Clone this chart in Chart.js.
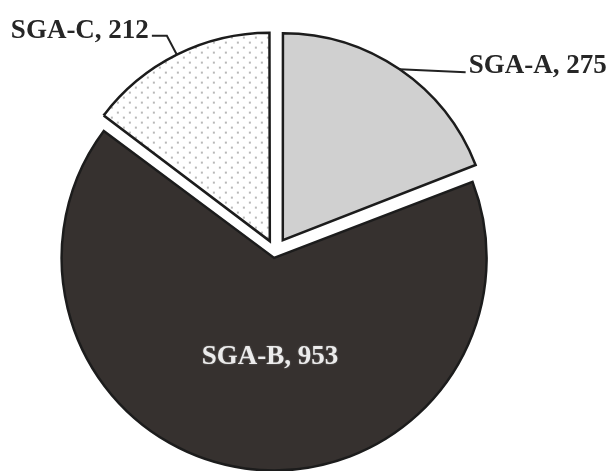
<!DOCTYPE html>
<html>
<head>
<meta charset="utf-8">
<script src="https://cdn.jsdelivr.net/npm/chart.js@4/dist/chart.umd.min.js"></script>
<style>
  html, body { margin: 0; padding: 0; background: #fff; }
  #wrap { width: 611px; height: 471px; position: relative; }
</style>
</head>
<body>
<div id="wrap"><canvas id="pieChart"></canvas></div>
<script>
const labels = ['SGA-A', 'SGA-B', 'SGA-C'];
const counts = [275, 953, 212];

// dotted fill for the SGA-C slice
function dotPattern() {
    const tile = document.createElement('canvas');
    tile.width = 12;
    tile.height = 10;
    const t = tile.getContext('2d');
    t.fillStyle = '#ffffff';
    t.fillRect(0, 0, 12, 10);
    t.fillStyle = '#b8b8b8';
    t.fillRect(2, 2, 2, 2);
    t.fillRect(8, 7, 2, 2);
    return document.getElementById('pieChart').getContext('2d').createPattern(tile, 'repeat');
}

// Chart.js moves an arc by offset/4 and grows its radius by offset/4 * (1 - sin(min(PI, circ)))
// pushes (px)
const slicePush = [13.8, 6.5, 11.6];

const labelPlugin = {
    id: 'sliceLabels',
    afterDatasetsDraw(chart) {
        const ctx = chart.ctx;
        const arcs = chart.getDatasetMeta(0).data;
        ctx.save();
        ctx.font = 'bold 27px "Liberation Serif", "Times New Roman", serif';
        ctx.textBaseline = 'alphabetic';
        arcs.forEach((arc, i) => {
            const p = arc.getProps(['x', 'y', 'startAngle', 'endAngle', 'outerRadius'], true);
            const mid = (p.startAngle + p.endAngle) / 2;
            const circ = p.endAngle - p.startAngle;
            const shift = (arc.options.offset || 0) / 4;
            const r = p.outerRadius + shift * (1 - Math.sin(Math.min(Math.PI, circ)));
            const cx = p.x + Math.cos(mid) * shift;
            const cy = p.y + Math.sin(mid) * shift;
            const ex = cx + Math.cos(mid) * r;
            const ey = cy + Math.sin(mid) * r;
            const text = labels[i] + ', ' + counts[i];
            ctx.strokeStyle = '#222';
            ctx.lineWidth = 2;
            if (i === 0) {
                ctx.beginPath();
                ctx.moveTo(ex, ey);
                ctx.lineTo(ex + 66, ey + 3);
                ctx.stroke();
                ctx.fillStyle = '#262626';
                ctx.textAlign = 'left';
                ctx.fillText(text, ex + 69, ey + 4);
            } else if (i === 2) {
                ctx.beginPath();
                ctx.moveTo(ex, ey);
                ctx.lineTo(ex - 10, ey - 19);
                ctx.lineTo(ex - 25, ey - 19);
                ctx.stroke();
                ctx.fillStyle = '#262626';
                ctx.textAlign = 'right';
                ctx.fillText(text, ex - 28, ey - 17);
            } else {
                ctx.fillStyle = '#ececec';
                ctx.textAlign = 'center';
                ctx.shadowColor = 'rgba(255,255,255,0.35)';
                ctx.shadowBlur = 2;
                ctx.fillText(text, cx - 4, cy + r * 0.5);
                ctx.shadowBlur = 0;
            }
        });
        ctx.restore();
    }
};

new Chart(document.getElementById('pieChart'), {
    type: 'pie',
    data: {
        labels: labels,
        datasets: [{
            data: counts,
            backgroundColor: ['#d0d0d0', '#36312f', dotPattern()],
            borderColor: '#1c1c1c',
            borderWidth: 2.5,
            borderJoinStyle: 'miter',
            offset: slicePush.map(s => s * 4),
            radius: 206,
            clip: false
        }]
    },
    options: {
        responsive: true,
        maintainAspectRatio: false,
        animation: false,
        layout: { padding: { left: 0, right: 61, top: 32, bottom: 0 } },
        plugins: {
            legend: { display: false },
            tooltip: { enabled: false }
        }
    },
    plugins: [labelPlugin]
});
</script>
</body>
</html>
